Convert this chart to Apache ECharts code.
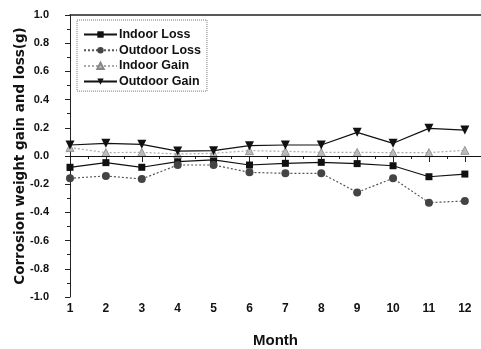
<!DOCTYPE html>
<html>
<head>
<meta charset="utf-8">
<script src="https://cdn.jsdelivr.net/npm/echarts@6/dist/echarts.min.js"></script>
<style>
  html, body { margin: 0; padding: 0; background: #fff; }
  #chart { width: 481px; height: 349px; }
</style>
</head>
<body>
<div id="chart"></div>
<script>
// month numbers on the x axis
const months = [1, 2, 3, 4, 5, 6, 7, 8, 9, 10, 11, 12];

// weight change in g
const indoorLoss = [-0.08, -0.047, -0.08, -0.04, -0.028, -0.064, -0.052, -0.045, -0.054, -0.069, -0.147, -0.128];
const outdoorLoss = [-0.158, -0.142, -0.163, -0.064, -0.064, -0.116, -0.123, -0.123, -0.258, -0.158, -0.331, -0.319];
const indoorGain = [0.06, 0.024, 0.026, 0.014, 0.019, 0.038, 0.033, 0.026, 0.026, 0.024, 0.024, 0.04];
const outdoorGain = [0.078, 0.09, 0.083, 0.035, 0.038, 0.073, 0.078, 0.078, 0.168, 0.09, 0.196, 0.184];

const pairs = vals => months.map((m, i) => [m, vals[i]]);

const chart = echarts.init(document.getElementById('chart'));

const font = 'Liberation Sans, Arial, sans-serif';

chart.setOption({
  animation: false,
  grid: {left: 70, right: 0, top: 15, bottom: 52, outerBoundsMode: 'none'},
  legend: {
    orient: 'vertical',
    left: 77,
    top: 20,
    padding: [8, 6, 3, 6],
    itemWidth: 33,
    itemHeight: 8,
    itemGap: 2.7,
    borderColor: '#777',
    borderWidth: 1,
    borderType: 'dotted',
    textStyle: {fontFamily: font, fontWeight: 'bold', fontSize: 12.5, color: '#111', padding: [0, 0, 0, -3]},
    data: ['Indoor Loss', 'Outdoor Loss', 'Indoor Gain', 'Outdoor Gain']
  },
  xAxis: [
    {
      type: 'value',
      min: 1,
      max: 12.45,
      interval: 1,
      name: 'Month',
      nameLocation: 'middle',
      nameGap: 36,
      nameMoveOverlap: false,
      nameTextStyle: {fontFamily: font, fontWeight: 'bold', fontSize: 15, color: '#111'},
      axisLine: {lineStyle: {color: '#222', width: 1}},
      axisTick: {length: 6, lineStyle: {color: '#222'}},
      minorTick: {show: true, splitNumber: 2, length: 3, lineStyle: {color: '#222'}},
      splitLine: {show: false},
      axisLabel: {fontFamily: font, fontWeight: 'bold', fontSize: 12, color: '#111', margin: 6, showMaxLabel: false}
    },
    {
      // top frame line only
      type: 'value',
      position: 'top',
      min: 1,
      max: 12.45,
      axisLine: {lineStyle: {color: '#222', width: 1.5}},
      axisTick: {show: false},
      axisLabel: {show: false},
      splitLine: {show: false}
    }
  ],
  yAxis: {
    type: 'value',
    min: -1,
    max: 1,
    interval: 0.2,
    name: 'Corrosion weight gain and loss(g)',
    nameLocation: 'middle',
    nameGap: 43,
    nameMoveOverlap: false,
    nameTextStyle: {fontFamily: 'DejaVu Sans, sans-serif', fontWeight: 'bold', fontSize: 13.5, color: '#111'},
    axisLine: {show: true, lineStyle: {color: '#222', width: 1}},
    axisTick: {show: true, length: 5, lineStyle: {color: '#222'}},
    minorTick: {show: true, splitNumber: 2, length: 3, lineStyle: {color: '#222'}},
    splitLine: {show: false},
    axisLabel: {fontFamily: font, fontWeight: 'bold', fontSize: 11, color: '#111', margin: 21,
      formatter: v => v.toFixed(1)}
  },
  series: [
    {
      name: 'Indoor Loss',
      type: 'line',
      data: pairs(indoorLoss),
      symbol: 'rect',
      symbolSize: 7,
      itemStyle: {color: '#111'},
      lineStyle: {color: '#111', width: 1.2},
      markLine: {
        silent: true,
        symbol: 'none',
        label: {show: false},
        lineStyle: {color: '#111', width: 1.2, type: 'solid'},
        data: [{yAxis: 0}]
      }
    },
    {
      name: 'Outdoor Loss',
      type: 'line',
      data: pairs(outdoorLoss),
      symbol: 'circle',
      symbolSize: 8,
      itemStyle: {color: '#444'},
      lineStyle: {color: '#555', width: 1.2, type: [2, 2]}
    },
    {
      name: 'Indoor Gain',
      type: 'line',
      data: pairs(indoorGain),
      symbol: 'triangle',
      symbolSize: 8,
      itemStyle: {color: '#bbb', borderColor: '#888', borderWidth: 0.8},
      lineStyle: {color: '#aaa', width: 1.2, type: [2, 2]}
    },
    {
      name: 'Outdoor Gain',
      type: 'line',
      data: pairs(outdoorGain),
      symbol: 'triangle',
      symbolRotate: 180,
      symbolSize: 9,
      itemStyle: {color: '#111'},
      lineStyle: {color: '#111', width: 1.2}
    }
  ]
});
</script>
</body>
</html>
